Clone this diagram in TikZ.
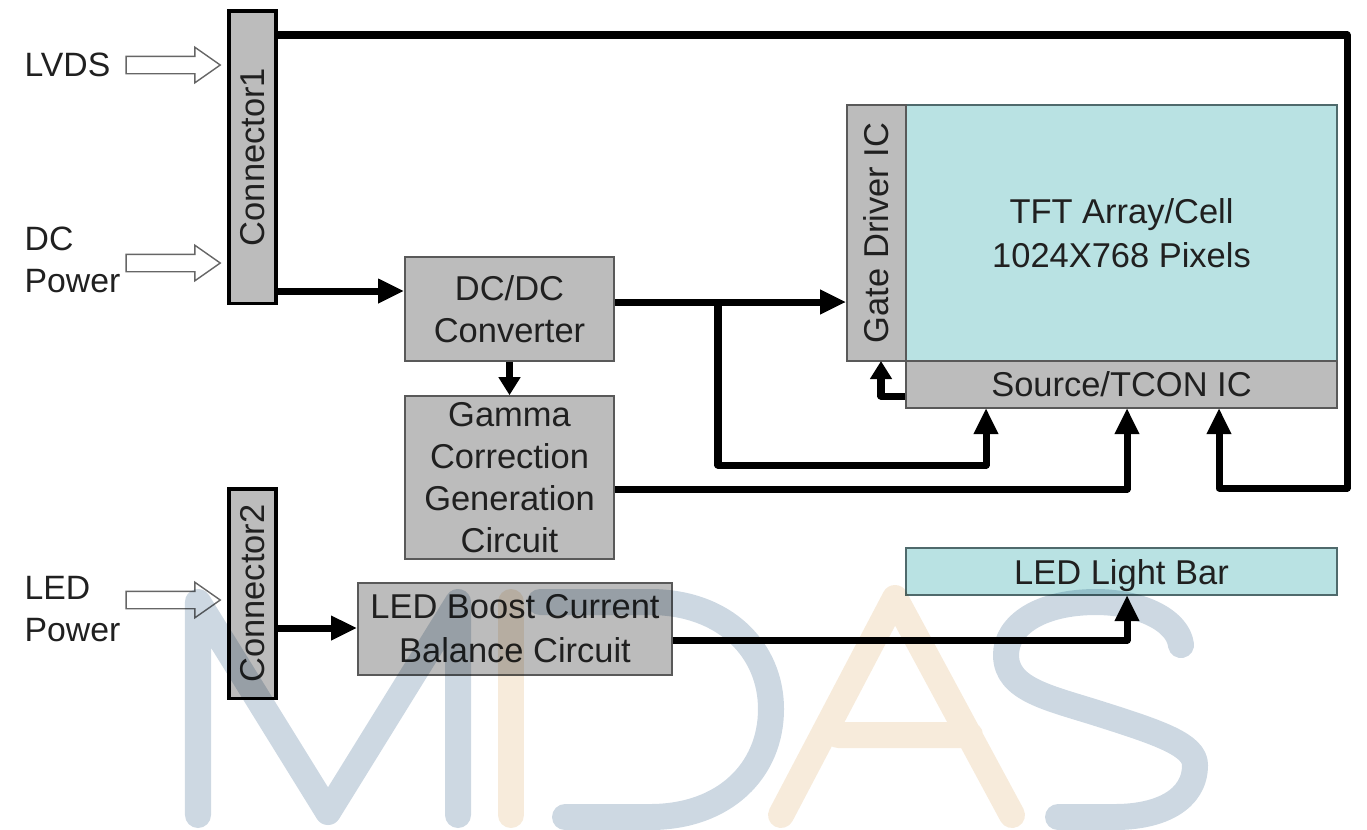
\documentclass[tikz,border=0pt]{standalone}
\usepackage{fontspec}
\setmainfont{Liberation Sans}
\usetikzlibrary{arrows.meta,shapes.arrows}
\definecolor{boxgrey}{HTML}{BCBCBC}
\definecolor{panelcyan}{HTML}{B9E2E3}
\definecolor{panelline}{HTML}{4F6A6C}
\definecolor{inktext}{HTML}{202020}
\definecolor{logoblue}{HTML}{CDD8E2}
\definecolor{logosand}{HTML}{F7EBDB}

\begin{document}
\begin{tikzpicture}[x=0.01cm, y=-0.01cm]
  \tikzset{
    label_text/.style={font=\fontsize{9.6}{12}\selectfont, text=inktext, align=left, anchor=west, inner sep=0pt},
    grey_box/.style={rectangle, draw=black!65, fill=boxgrey, line width=0.45pt, inner sep=0pt, align=center, font=\fontsize{9.8}{12}\selectfont, text=inktext},
    cyan_box/.style={grey_box, draw=panelline, fill=panelcyan},
    conn_box/.style={grey_box, draw=black, line width=0.9pt, rotate=90},
    open_arrow/.style={single arrow, draw=black!60, fill=white, line width=0.4pt, inner sep=0.08cm, single arrow head extend=0.09cm, single arrow tip angle=70, minimum height=0.94cm},
    bus/.style={line width=2pt, black, line join=round, -{Triangle[length=0.26cm, width=0.23cm]}},
    small_bus/.style={bus, -{Triangle[length=0.18cm, width=0.21cm]}},
    logo_stroke/.style={line width=0.26cm, line cap=round, line join=round, blend mode=multiply}
  }

  \useasboundingbox (0,0) rectangle (1367,829);

  % Connectors
  \node[conn_box, minimum width=2.92cm, minimum height=0.47cm] (conn1) at (252.5,157) {Connector1};
  \node[conn_box, minimum width=2.09cm, minimum height=0.47cm] (conn2) at (252.5,593.5) {Connector2};

  % Inputs
  \node[label_text] (lvds) at (24,65) {LVDS};
  \node[label_text] (dc_power) at (24,260) {DC\\Power};
  \node[label_text] (led_power) at (24,609) {LED\\Power};
  \node[open_arrow] (lvds_arrow) at (167,65) {};
  \node[open_arrow] (dc_arrow) at (167,263) {};
  \node[open_arrow] (led_arrow) at (167,600) {};

  % Blocks
  \node[grey_box, minimum width=2.09cm, minimum height=1.04cm] (dcdc) at (509.5,309) {DC/DC\\Converter};
  \node[grey_box, minimum width=2.09cm, minimum height=1.63cm] (gamma) at (509.5,477.5) {Gamma\\Correction\\Generation\\Circuit};
  \node[grey_box, minimum width=3.14cm, minimum height=0.92cm] (boost) at (515,629) {LED Boost Current\\[0.02cm]Balance Circuit};

  % Panel
  \node[cyan_box, minimum width=4.31cm, minimum height=2.56cm] (tft) at (1121.5,233) {TFT Array/Cell\\[0.02cm]1024X768 Pixels};
  \node[grey_box, rotate=90, minimum width=2.56cm, minimum height=0.59cm] (gate) at (876.5,233) {Gate Driver IC};
  \node[grey_box, minimum width=4.31cm, minimum height=0.47cm] (source) at (1121.5,384.5) {Source/TCON IC};
  \node[cyan_box, minimum width=4.31cm, minimum height=0.47cm, text depth=0pt] (light_bar) at (1121.5,571.5) {LED Light Bar};

  % Lines
  \draw[bus] (conn1.south |- 0,35) -- (1347,35) -- (1347,488) -- (1219,488) -- (1219,408);
  \draw[bus] (conn1.south |- 0,291) -- (dcdc.west |- 0,291);
  \draw[bus] (dcdc.east |- 0,302) -- (gate.north |- 0,302);
  \draw[bus] (718,302) -- (718,465) -- (986,465) -- (986,408);
  \draw[bus] (gamma.east |- 0,489) -- (1127,489) -- (1127,408);
  \draw[small_bus] (dcdc.south) -- (gamma.north);
  \draw[small_bus] (source.west |- 0,396) -- (881,396) -- (881,361);
  \draw[bus] (conn2.south |- 0,628) -- (boost.west |- 0,628);
  \draw[bus] (boost.east |- 0,640) -- (1127,640) -- (1127,595);

  % Logo
  \draw[logo_stroke, logoblue] (198,815) -- (198,602) -- (328,812) -- (458,602) -- (458,815);
  \draw[logo_stroke, logosand] (511,602) -- (511,815);
  \draw[logo_stroke, logoblue] (540,602) -- (650,602) .. controls (725,602) and (771,650) .. (771,709) .. controls (771,770) and (725,817) .. (650,817) -- (565,817);
  \draw[logo_stroke, logosand] (781,815) -- (895,598) -- (1012,815) (838,735) -- (970,735);
  \draw[logo_stroke, logoblue] (1181,645) .. controls (1178,620) and (1140,602) .. (1096,602) .. controls (1040,602) and (1006,625) .. (1006,655) .. controls (1006,690) and (1050,698) .. (1100,714) .. controls (1160,733) and (1195,745) .. (1195,765) .. controls (1195,800) and (1160,817) .. (1115,817) -- (1058,817);
\end{tikzpicture}
\end{document}
